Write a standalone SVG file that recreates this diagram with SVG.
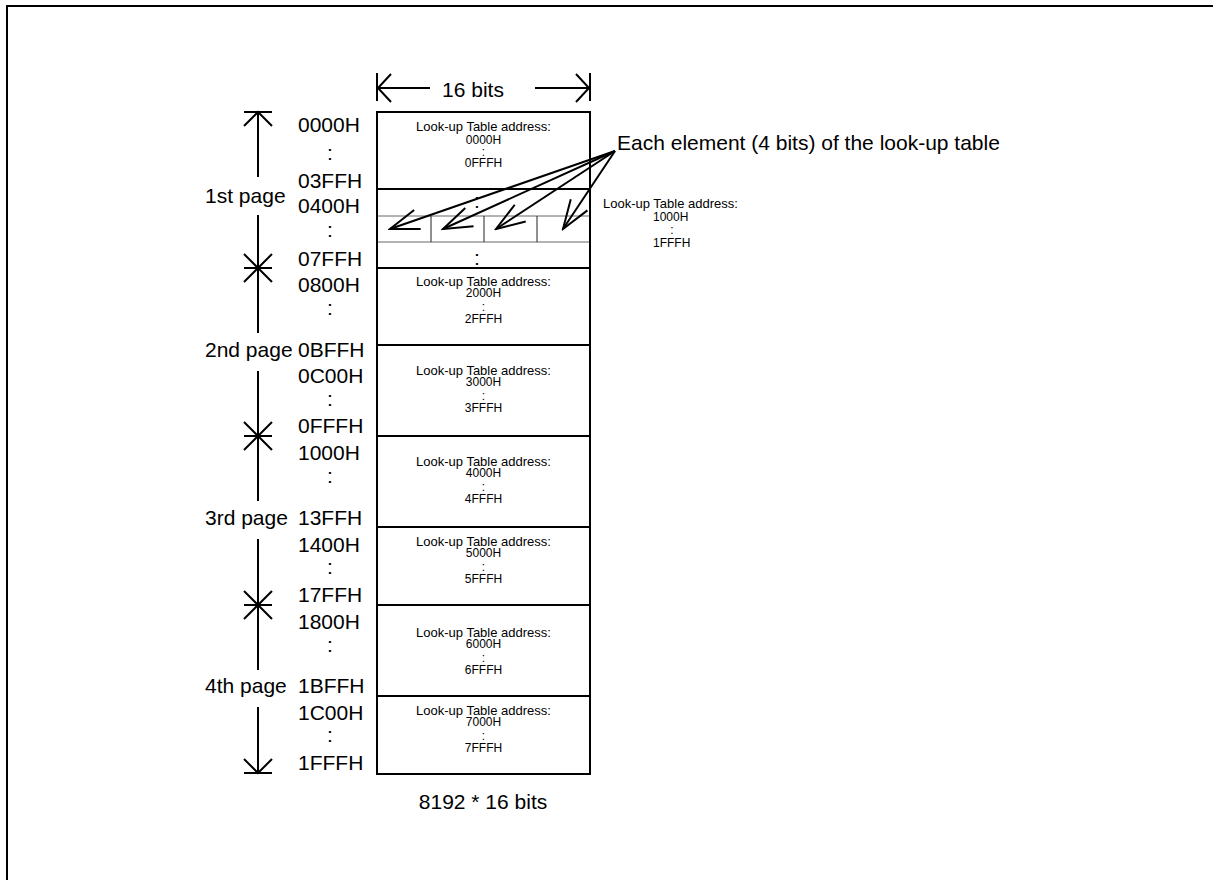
<svg xmlns="http://www.w3.org/2000/svg" width="1213" height="880" viewBox="0 0 1213 880">
<style>
text{font-family:"Liberation Sans",Arial,sans-serif;fill:#000}
.big{font-size:21px}
.hd{font-size:13px;text-anchor:middle}
.nm{font-size:12px;text-anchor:middle}
.ln{stroke:#000;stroke-width:2;fill:none}
.thin{stroke:#666;stroke-width:1;fill:none}
.vthin{stroke:#222;stroke-width:1;fill:none}
.col{font-size:21px;text-anchor:middle}
</style>
<defs>
<marker id="ah" markerUnits="userSpaceOnUse" viewBox="-32 -13 34 26" refX="0" refY="0" markerWidth="34" markerHeight="26" orient="auto">
<path d="M-29,-10 L0,0 L-29,10" fill="none" stroke="#000" stroke-width="2"/>
</marker>
</defs>
<path class="ln" d="M7,890 L7,6 L1220,6"/>

<g id="width-dimension">
<path class="ln" d="M377,73 V101 M590,73 V101 M378,88 H430 M535,88 H589 M391,74 L378,88 L391,102 M576,74 L589,88 L576,102"/>
<text class="big" x="473" y="97" text-anchor="middle">16 bits</text>
</g>

<g id="memory">
<rect class="ln" x="377" y="112" width="213" height="662"/>
<path class="ln" d="M377,189 H590 M377,268 H590 M377,345 H590 M377,436 H590 M377,527 H590 M377,605 H590 M377,696 H590"/>
<path class="thin" d="M378,216 H589 M378,242 H589"/>
<path class="vthin" d="M431,216 V242 M484,216 V242 M537,216 V242"/>
<text class="col" x="477" y="208">:</text>
<text class="col" x="477" y="265">:</text>
</g>

<g id="box0">
<text class="hd" x="483.5" y="131">Look-up Table address:</text>
<text class="nm" x="483.5" y="144">0000H</text>
<text class="nm" x="483.5" y="156">:</text>
<text class="nm" x="483.5" y="167">0FFFH</text>
</g>
<g id="box2">
<text class="hd" x="483.5" y="286">Look-up Table address:</text>
<text class="nm" x="483.5" y="297">2000H</text>
<text class="nm" x="483.5" y="311">:</text>
<text class="nm" x="483.5" y="323">2FFFH</text>
</g>
<g id="box3">
<text class="hd" x="483.5" y="375">Look-up Table address:</text>
<text class="nm" x="483.5" y="386">3000H</text>
<text class="nm" x="483.5" y="400">:</text>
<text class="nm" x="483.5" y="412">3FFFH</text>
</g>
<g id="box4">
<text class="hd" x="483.5" y="466">Look-up Table address:</text>
<text class="nm" x="483.5" y="477">4000H</text>
<text class="nm" x="483.5" y="491">:</text>
<text class="nm" x="483.5" y="503">4FFFH</text>
</g>
<g id="box5">
<text class="hd" x="483.5" y="546">Look-up Table address:</text>
<text class="nm" x="483.5" y="557">5000H</text>
<text class="nm" x="483.5" y="571">:</text>
<text class="nm" x="483.5" y="583">5FFFH</text>
</g>
<g id="box6">
<text class="hd" x="483.5" y="637">Look-up Table address:</text>
<text class="nm" x="483.5" y="648">6000H</text>
<text class="nm" x="483.5" y="662">:</text>
<text class="nm" x="483.5" y="674">6FFFH</text>
</g>
<g id="box7">
<text class="hd" x="483.5" y="715">Look-up Table address:</text>
<text class="nm" x="483.5" y="726">7000H</text>
<text class="nm" x="483.5" y="740">:</text>
<text class="nm" x="483.5" y="752">7FFFH</text>
</g>

<g id="box1-note">
<text x="603" y="208" style="font-size:13px">Look-up Table address:</text>
<text x="653" y="221" style="font-size:12px">1000H</text>
<text x="672" y="234" style="font-size:12px" text-anchor="middle">:</text>
<text x="653" y="247" style="font-size:12px">1FFFH</text>
</g>

<g id="element-label">
<text class="big" x="617" y="150">Each element (4 bits) of the look-up table</text>
</g>

<g id="connectors">
<line class="ln" x1="615" y1="151" x2="390" y2="229" marker-end="url(#ah)"/>
<line class="ln" x1="615" y1="151" x2="443" y2="229" marker-end="url(#ah)"/>
<line class="ln" x1="615" y1="151" x2="496" y2="229" marker-end="url(#ah)"/>
<line class="ln" x1="615" y1="151" x2="563" y2="229" marker-end="url(#ah)"/>
</g>

<g id="page-dimension">
<path class="ln" d="M244,112 H272 M244,126 L258,112 L272,126 M258,112 V177 M258,215 V268
M244,268 H272 M244,254 L258,268 L272,254 M244,282 L258,268 L272,282 M258,268 V333 M258,371 V436
M244,436 H272 M244,422 L258,436 L272,422 M244,450 L258,436 L272,450 M258,436 V501 M258,539 V605
M244,605 H272 M244,591 L258,605 L272,591 M244,619 L258,605 L272,619 M258,605 V670 M258,707 V773
M244,773 H272 M244,759 L258,773 L272,759"/>
<text class="big" x="205" y="203">1st page</text>
<text class="big" x="205" y="357">2nd page</text>
<text class="big" x="205" y="525">3rd page</text>
<text class="big" x="205" y="693">4th page</text>
</g>

<g id="addresses">
<text class="big" x="298" y="132">0000H</text>
<text class="col" x="330" y="160">:</text>
<text class="big" x="298" y="188">03FFH</text>
<text class="big" x="298" y="213">0400H</text>
<text class="col" x="330" y="237">:</text>
<text class="big" x="298" y="266">07FFH</text>
<text class="big" x="298" y="292">0800H</text>
<text class="col" x="330" y="315">:</text>
<text class="big" x="298" y="357">0BFFH</text>
<text class="big" x="298" y="383">0C00H</text>
<text class="col" x="330" y="406">:</text>
<text class="big" x="298" y="433">0FFFH</text>
<text class="big" x="298" y="460">1000H</text>
<text class="col" x="330" y="483">:</text>
<text class="big" x="298" y="525">13FFH</text>
<text class="big" x="298" y="552">1400H</text>
<text class="col" x="330" y="574">:</text>
<text class="big" x="298" y="602">17FFH</text>
<text class="big" x="298" y="629">1800H</text>
<text class="col" x="330" y="652">:</text>
<text class="big" x="298" y="693">1BFFH</text>
<text class="big" x="298" y="720">1C00H</text>
<text class="col" x="330" y="742">:</text>
<text class="big" x="298" y="770">1FFFH</text>
</g>

<g id="size-label">
<text class="big" x="483" y="809" text-anchor="middle">8192 * 16 bits</text>
</g>
</svg>
